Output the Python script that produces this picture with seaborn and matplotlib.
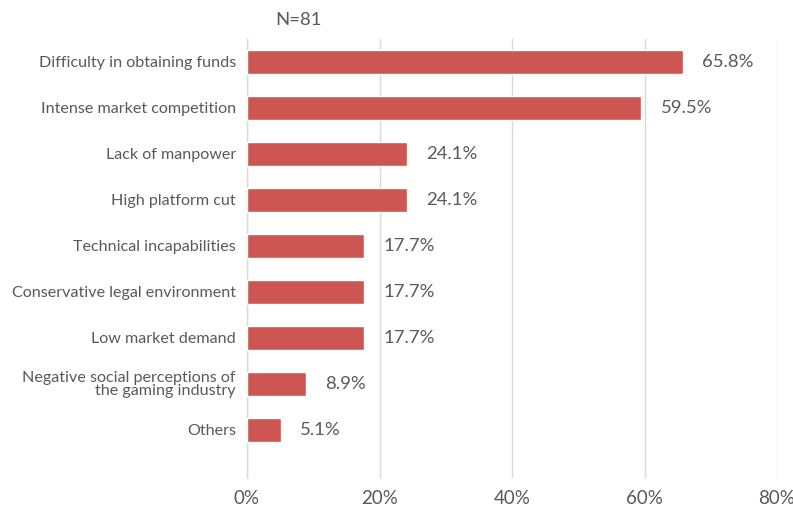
import matplotlib
matplotlib.use("Agg")
import matplotlib.pyplot as plt
import seaborn as sns
import pandas as pd

categories = [
    "Difficulty in obtaining funds",
    "Intense market competition",
    "Lack of manpower",
    "High platform cut",
    "Technical incapabilities",
    "Conservative legal environment",
    "Low market demand",
    "Negative social perceptions of\nthe gaming industry",
    "Others",
]
values = [65.8, 59.5, 24.1, 24.1, 17.7, 17.7, 17.7, 8.9, 5.1]
x_ticks = [0, 20, 40, 60, 80]
x_tick_labels = ["0%", "20%", "40%", "60%", "80%"]
sample_note = "N=81"

df = pd.DataFrame({"category": categories, "value": values})

sns.set_theme(style="white")
plt.rcParams["font.family"] = ["Lato", "DejaVu Sans"]
text_color = "#595959"
bar_color = "#CD5652"

fig = plt.figure(figsize=(7.93, 5.11), dpi=100)
ax = fig.add_axes([247 / 793, 1 - 478 / 511, (777 - 247) / 793, (478 - 39) / 511])

sns.barplot(data=df, x="value", y="category", color=bar_color, width=0.52,
            saturation=1, ax=ax, zorder=3)

ax.set_xlim(0, 80)
ax.set_ylim(9.05, -0.5)
ax.set_xticks(x_ticks)
ax.set_xticklabels(x_tick_labels, fontsize=13.5, color=text_color)
ax.tick_params(axis="x", length=0, pad=9)
ax.tick_params(axis="y", length=0, pad=8)
for lab in ax.get_yticklabels():
    lab.set_fontsize(11.6)
    lab.set_color(text_color)
    lab.set_linespacing(0.9)
ax.set_xlabel("")
ax.set_ylabel("")
ax.grid(axis="x", color="#D9D9D9", linewidth=1, zorder=0)
ax.grid(axis="y", visible=False)
for side in ["top", "right", "bottom"]:
    ax.spines[side].set_visible(False)
ax.spines["left"].set_color("#D9D9D9")
ax.spines["left"].set_linewidth(1)

for i, v in enumerate(values):
    ax.annotate(f"{v}%", xy=(v, i), xytext=(14, 0), textcoords="offset points",
                ha="left", va="center", fontsize=13.3, color=text_color)

fig.text(275 / 793, 1 - 20 / 511, sample_note, ha="left", va="center",
         fontsize=13.3, color=text_color)

fig.savefig("out.png", dpi=100)
